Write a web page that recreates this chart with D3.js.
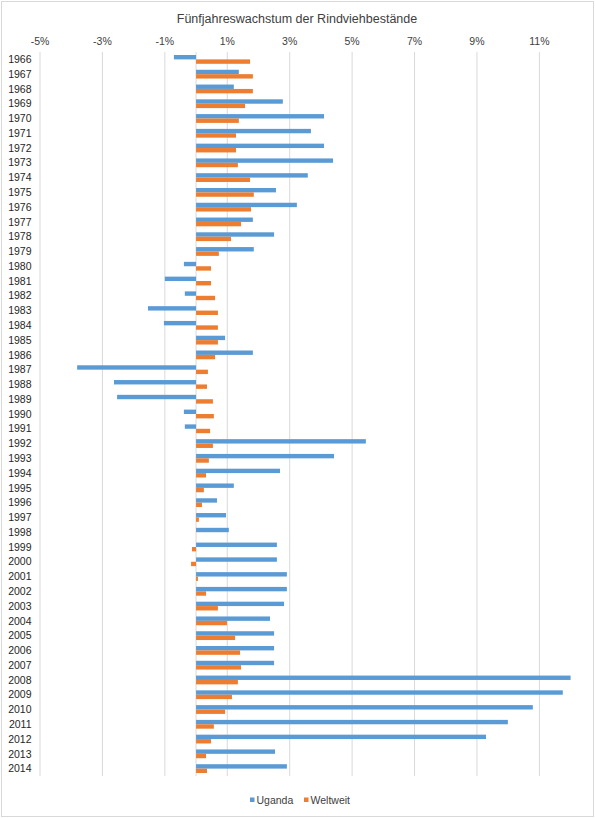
<!DOCTYPE html>
<html>
<head>
<meta charset="utf-8">
<script src="https://cdn.jsdelivr.net/npm/d3@7"></script>
<style>
  body { margin: 0; background: #fff; }
  text { font-family: "Liberation Sans", Arial, sans-serif; }
</style>
</head>
<body>
<div id="chart"></div>
<script>
const years = d3.range(1966, 2015).map(String);
const uganda = [-0.71, 1.37, 1.21, 2.78, 4.10, 3.68, 4.10, 4.39, 3.58, 2.56,
  3.23, 1.82, 2.50, 1.85, -0.39, -1.00, -0.36, -1.54, -1.03, 0.93,
  1.82, -3.81, -2.63, -2.53, -0.39, -0.36, 5.44, 4.42, 2.69, 1.21,
  0.67, 0.96, 1.05, 2.59, 2.59, 2.91, 2.91, 2.82, 2.37, 2.50,
  2.50, 2.50, 12.0, 11.75, 10.79, 9.99, 9.29, 2.53, 2.91];
const weltweit = [1.73, 1.82, 1.82, 1.57, 1.37, 1.28, 1.28, 1.34, 1.73, 1.85,
  1.76, 1.44, 1.12, 0.73, 0.48, 0.48, 0.61, 0.70, 0.70, 0.70,
  0.61, 0.38, 0.35, 0.54, 0.57, 0.45, 0.54, 0.41, 0.32, 0.25,
  0.19, 0.09, 0.0, -0.13, -0.16, 0.06, 0.32, 0.70, 0.99, 1.25,
  1.41, 1.44, 1.34, 1.15, 0.93, 0.57, 0.48, 0.32, 0.35];
const tickValues = [-5, -3, -1, 1, 3, 5, 7, 9, 11];
const seriesNames = ["Uganda", "Weltweit"];
const colors = ["#5b9bd5", "#ed7d31"];

const width = 595, height = 818;
const plot = { left: 40, right: 570.6, top: 52, bottom: 776 };
const barH = 4.4;

const svg = d3.select("#chart").append("svg").attr("width", width).attr("height", height);
svg.append("rect").attr("x", 1.5).attr("y", 1.5).attr("width", width - 3).attr("height", height - 3)
  .attr("fill", "#fff").attr("stroke", "#d9d9d9");

const x = d3.scaleLinear().domain([-5, 12]).range([plot.left, plot.right]);
const y = d3.scaleBand().domain(years).range([plot.top, plot.bottom]);

// title
svg.append("text")
  .attr("x", 297).attr("y", 23)
  .attr("text-anchor", "middle")
  .attr("font-size", "12.5px")
  .attr("fill", "#404040")
  .text("Fünfjahreswachstum der Rindviehbestände");

// gridlines + top labels
svg.append("g").selectAll("line")
  .data(tickValues)
  .join("line")
  .attr("x1", d => x(d)).attr("x2", d => x(d))
  .attr("y1", plot.top).attr("y2", plot.bottom)
  .attr("stroke", "#d9d9d9");

svg.append("g").selectAll("text")
  .data(tickValues)
  .join("text")
  .attr("x", d => x(d)).attr("y", 44.5)
  .attr("text-anchor", "middle")
  .attr("font-size", "10.5px")
  .attr("fill", "#404040")
  .text(d => d + "%");

// category axis at zero
svg.append("line")
  .attr("x1", x(0)).attr("x2", x(0))
  .attr("y1", plot.top).attr("y2", plot.bottom)
  .attr("stroke", "#d9d9d9");

const rows = years.map((yr, i) => ({ yr, values: [uganda[i], weltweit[i]] }));

const groups = svg.append("g").selectAll("g")
  .data(rows)
  .join("g")
  .attr("transform", d => `translate(0,${y(d.yr) + y.bandwidth() / 2 - barH})`);

groups.selectAll("rect")
  .data(d => d.values.map((v, k) => ({ v, k })))
  .join("rect")
  .attr("x", d => x(Math.min(0, d.v)))
  .attr("y", d => d.k * barH)
  .attr("width", d => Math.abs(x(d.v) - x(0)))
  .attr("height", barH)
  .attr("fill", d => colors[d.k]);

// year labels
svg.append("g").selectAll("text")
  .data(years)
  .join("text")
  .attr("x", 31.5)
  .attr("y", d => y(d) + y.bandwidth() / 2)
  .attr("dy", "0.35em")
  .attr("text-anchor", "end")
  .attr("font-size", "10.5px")
  .attr("fill", "#262626")
  .text(d => d);

// legend
const legendX = [250, 304];
const legend = svg.append("g").selectAll("g")
  .data(seriesNames)
  .join("g")
  .attr("transform", (d, i) => `translate(${legendX[i]},797.5)`);
legend.append("rect").attr("width", 4.5).attr("height", 4.5).attr("fill", (d, i) => colors[i]);
legend.append("text")
  .attr("x", 6.5).attr("y", 6)
  .attr("font-size", "10.5px")
  .attr("fill", "#404040")
  .text(d => d);
</script>
</body>
</html>
